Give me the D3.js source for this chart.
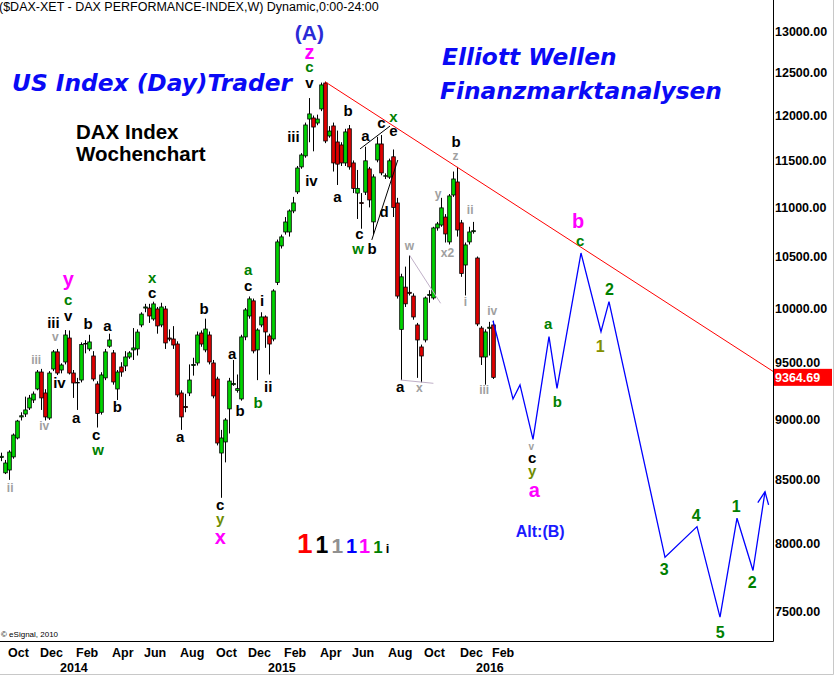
<!DOCTYPE html>
<html>
<head>
<meta charset="utf-8">
<script src="https://cdn.jsdelivr.net/npm/d3@7/dist/d3.min.js"></script>
<style>
  body { margin: 0; background: #fff; }
  text { font-family: "Liberation Sans", Arial, sans-serif; }
</style>
</head>
<body>
<script>
	// weekly DAX candles, first bar = week of 23 Sep 2013
	var firstWeek = new Date(2013, 8, 23);

	var opens = [8680, 8555, 8578, 8685, 8842, 9020, 9045, 9097, 9166, 9262,
		9412, 9227, 9011, 9439, 9593, 9430, 9502, 9720, 9403, 9315,
		9341, 9665, 9620, 9556, 9306, 9060, 9360, 9645, 9584, 9262,
		9457, 9466, 9547, 9611, 9620, 9841, 10000, 10000, 9897, 9991,
		9841, 9991, 9720, 9711, 9665, 9227, 9110, 9227, 9470, 9493,
		9766, 9611, 9748, 9493, 9350, 8717, 8809, 9089, 9300, 9250,
		9175, 9730, 9925, 10068, 9611, 9841, 9916, 9739, 9711, 10246,
		10606, 10747, 10747, 10963, 11163, 11430, 11550, 11960, 11972, 11915,
		12075, 12375, 11770, 11882, 11703, 11670, 11473, 11850, 11473, 11150,
		11050, 11160, 11408, 10850, 11505, 11681, 11330, 11320, 11540, 11046,
		9800, 10200, 10150, 10114, 9841, 9638, 9702, 10120, 10096, 10788,
		10818, 10900, 10646, 11130, 11268, 10840, 10416, 10646, 10750, 10485,
		9812, 9547, 9810, 9841];
	var highs = [8720, 8660, 8740, 8880, 8995, 9060, 9195, 9210, 9240, 9430,
		9440, 9260, 9420, 9610, 9620, 9490, 9794, 9790, 9430, 9360,
		9680, 9700, 9750, 9600, 9330, 9410, 9620, 9760, 9610, 9430,
		9500, 9600, 9600, 9812, 9800, 9960, 10040, 10040, 10060, 10010,
		10050, 10020, 9800, 9830, 9690, 9250, 9220, 9480, 9540, 9780,
		9790, 9900, 9780, 9520, 9370, 8910, 9010, 9360, 9520, 9390,
		9750, 10000, 10110, 10090, 9810, 9960, 9930, 9760, 10180, 10670,
		10720, 10900, 10980, 11110, 11440, 11580, 11920, 12200, 12000, 12010,
		12380, 12390, 11880, 11920, 11830, 11700, 11850, 11893, 11500, 11397,
		11150, 11650, 11430, 11350, 11760, 11780, 11360, 11520, 11620, 11100,
		10330, 10400, 10515, 10140, 9860, 9660, 10110, 10170, 10800, 10850,
		11100, 10930, 11140, 11380, 11430, 10870, 10640, 10800, 10850, 10500,
		9830, 9800, 9870, 9880];
	var lows = [8650, 8545, 8498, 8670, 8830, 8990, 9020, 9080, 9140, 9250,
		9080, 8990, 8995, 9420, 9385, 9400, 9480, 9390, 9184, 9080,
		9320, 9580, 9600, 9330, 8930, 9040, 9340, 9630, 9300, 9166,
		9370, 9420, 9530, 9520, 9560, 9820, 9960, 9860, 9880, 9760,
		9820, 9620, 9690, 9620, 9190, 8910, 9060, 9200, 9380, 9470,
		9640, 9590, 9480, 9180, 8780, 8355, 8640, 8880, 9290, 9230,
		9160, 9700, 9900, 9580, 9340, 9820, 9630, 9390, 9690, 10220,
		10580, 10720, 10700, 10940, 11140, 11410, 11530, 11700, 11600, 11890,
		12050, 11690, 11750, 11380, 11236, 11440, 11440, 11400, 11150, 10880,
		10780, 11130, 11000, 10720, 11480, 11340, 11300, 11300, 10900, 10090,
		9340, 10010, 10120, 9890, 9360, 9320, 9680, 10050, 10080, 10760,
		10800, 10640, 10620, 11110, 10700, 10300, 10120, 10620, 10730, 9830,
		9475, 9300, 9560, 9350];
	var closes = [8690, 8635, 8725, 8867, 8985, 9030, 9080, 9183, 9218, 9412,
		9184, 9020, 9403, 9593, 9403, 9475, 9748, 9403, 9315, 9320,
		9660, 9670, 9684, 9350, 9050, 9386, 9593, 9702, 9324, 9412,
		9412, 9547, 9584, 9629, 9775, 9943, 10010, 9925, 10039, 9832,
		10010, 9675, 9710, 9656, 9210, 9020, 9100, 9341, 9480, 9748,
		9665, 9803, 9502, 9201, 8800, 8842, 8994, 9332, 9310, 9265,
		9730, 9982, 10087, 9602, 9794, 9916, 9776, 9665, 10163, 10646,
		10697, 10849, 10963, 11047, 11418, 11560, 11893, 12018, 11870, 11960,
		12353, 11714, 11825, 11473, 11460, 11473, 11815, 11430, 11200, 11200,
		11040, 11496, 11078, 11322, 11681, 11365, 11335, 11496, 11000, 10114,
		10300, 10040, 10140, 9916, 9702, 9556, 10096, 10130, 10788, 10829,
		10995, 10727, 11120, 11300, 10767, 10333, 10616, 10747, 10760, 9850,
		9547, 9776, 9820, 9364.69];
	var lastPrice = 9364.69;

	// projected path (weeks after first bar, price)
	var projWeeks = [123, 128, 129.75, 133, 137, 139, 145, 150, 152, 166, 174, 179.75, 184, 188, 191];
	var projPrices = [9880, 9175, 9298, 8831, 9733, 9268, 10535, 9779, 10061, 7897, 8130, 7462, 8195, 7799, 8403];
	var arrowWeeks = [189.2, 191, 191.9];
	var arrowPrices = [8317, 8403, 8299];

	var trendWeeks = [81, 193];
	var trendPrices = [12390, 9418];

	// thin helper lines drawn in the chart
	var helperLines = [
		{ w: [89.75, 97.25], p: [11626, 11881], c: "#000" },
		{ w: [92.7, 99.2], p: [10666, 11505], c: "#000" },
		{ w: [102.1, 109.9], p: [10515, 10045], c: "#c0b0c8" },
		{ w: [99.9, 108.1], p: [9341, 9312], c: "#c0b0c8" }
	];

	var priceTicks = [7500, 8000, 8500, 9000, 9500, 10000, 10500, 11000, 11500, 12000, 12500, 13000];
	var monthTicks = ["2013-10", "2013-12", "2014-02", "2014-04", "2014-06", "2014-08", "2014-10", "2014-12",
		"2015-02", "2015-04", "2015-06", "2015-08", "2015-10", "2015-12", "2016-02"];
	var yearTicks = ["2014", "2015", "2016"];

	// wave labels: text, week, price, style
	var waveLabels = [
		["ii", 2.3, 8433, "s"], ["iv", 10.8, 8943, "s"], ["iii", 8.8, 9520, "s"], ["v", 13.6, 9730, "s"],
		["iii", 13.1, 9859, "k"], ["v", 16.8, 9925, "k"], ["c", 16.8, 10077, "g"], ["y", 16.8, 10279, "m"],
		["iv", 14.6, 9315, "k"], ["a", 18.8, 9011, "k"], ["b", 21.8, 9850, "k"], ["a", 26.6, 9832, "k"],
		["b", 29.1, 9106, "k"], ["c", 23.8, 8867, "k"], ["w", 24.3, 8742, "g"], ["x", 37.8, 10290, "g"],
		["c", 37.8, 10143, "k"], ["a", 44.8, 8851, "k"], ["b", 50.8, 9991, "k"], ["a", 57.8, 9574, "k"],
		["b", 59.8, 9071, "k"], ["a", 61.8, 10367, "g"], ["c", 61.8, 10211, "k"], ["i", 65.3, 10067, "k"],
		["ii", 66.8, 9280, "k"], ["b", 64.3, 9140, "g"], ["c", 54.8, 8299, "k"], ["y", 54.8, 8189, "o"],
		["x", 54.8, 8051, "m"],
		["(A)", 77.1, 12988, "A"], ["z", 77.1, 12744, "m"], ["c", 77.1, 12564, "g"], ["v", 77.1, 12375, "k"],
		["iii", 73.1, 11758, "k"], ["iv", 77.6, 11279, "k"], ["b", 86.8, 12052, "k"], ["a", 84.1, 11109, "k"],
		["a", 91.1, 11770, "k"], ["c", 95.1, 11915, "k"], ["x", 98.1, 11983, "g"], ["e", 98.1, 11825, "k"],
		["d", 95.8, 10952, "k"], ["c", 89.6, 10727, "k"], ["w", 89.3, 10575, "g"], ["b", 92.8, 10575, "k"],
		["b", 113.8, 11703, "k"], ["z", 113.6, 11549, "s"], ["y", 109.3, 11140, "s"], ["x2", 111.6, 10535, "s"],
		["ii", 117.3, 10973, "s"], ["i", 116.1, 10057, "s"], ["w", 102.1, 10605, "s"], ["a", 99.8, 9280, "k"],
		["x", 104.6, 9271, "s"], ["iv", 122.8, 9972, "s"], ["iii", 120.8, 9253, "s"],
		["v", 132.6, 8775, "t"], ["c", 132.8, 8676, "k"], ["y", 132.8, 8570, "o"], ["a", 133.3, 8420, "m"],
		["a", 136.8, 9850, "g"], ["b", 139.1, 9149, "g"], ["b", 144.3, 10860, "m"], ["c", 144.8, 10656, "g"],
		["2", 152.1, 10182, "n"], ["1", 149.8, 9647, "on"], ["3", 165.8, 7811, "n"], ["4", 173.8, 8221, "n"],
		["5", 179.8, 7358, "n"], ["1", 183.8, 8291, "n"], ["2", 187.8, 7715, "n"], ["Alt:(B)", 134.8, 8097, "B"]
	];
	var labelStyle = {
		k: { c: "#000000", s: 15 },
		g: { c: "#008000", s: 15 },
		o: { c: "#6e8c00", s: 15 },
		s: { c: "#a0a0a0", s: 12 },
		t: { c: "#a0a0a0", s: 10 },
		m: { c: "#ff00ff", s: 20 },
		n: { c: "#008000", s: 16 },
		on: { c: "#839000", s: 16 },
		A: { c: "#2b2bd6", s: 21 },
		B: { c: "#1a1aff", s: 16 }
	};

	// colored "1" row
	var ones = [
		{ t: "1", c: "#ff0000", s: 28 }, { t: "1", c: "#000000", s: 23 }, { t: "1", c: "#909090", s: 21 },
		{ t: "1", c: "#0000ff", s: 20 }, { t: "1", c: "#ff00ff", s: 20 }, { t: "1", c: "#008000", s: 17 },
		{ t: "i", c: "#000000", s: 13 }
	];

	var width = 836, height = 676;
	var axisX = 773, axisY = 641;

	function wk(i) {
		return new Date(firstWeek.getTime() + i * 7 * 86400000);
	}

	var svg = d3.select("body").append("svg")
		.attr("width", width)
		.attr("height", height);

	var x = d3.scaleTime().domain([wk(0), wk(193)]).range([1, axisX]);
	var y = d3.scaleLog().domain([7500, 13000]).range([611.8, 31]);

	var plot = svg.append("g");

	// frame
	svg.append("line").attr("x1", 833.5).attr("x2", 833.5).attr("y1", 0).attr("y2", 674.5)
		.attr("stroke", "#c8c8c8");
	svg.append("line").attr("x1", 0).attr("x2", 833.5).attr("y1", 674.5).attr("y2", 674.5)
		.attr("stroke", "#c8c8c8");

	// candles
	var candles = d3.range(opens.length).map(function(i) {
		return { d: wk(i), o: opens[i], h: highs[i], l: lows[i], c: closes[i] };
	});

	var cg = plot.selectAll("g.candle").data(candles).enter().append("g");
	cg.append("line")
		.attr("x1", function(d) { return x(d.d) + 0.5; })
		.attr("x2", function(d) { return x(d.d) + 0.5; })
		.attr("y1", function(d) { return y(d.h); })
		.attr("y2", function(d) { return y(d.l); })
		.attr("stroke", "#000")
		.attr("stroke-width", 1);
	cg.append("rect")
		.attr("x", function(d) { return x(d.d) - 1.3; })
		.attr("width", 3.6)
		.attr("y", function(d) { return y(Math.max(d.o, d.c)); })
		.attr("height", function(d) { return Math.max(0.5, y(Math.min(d.o, d.c)) - y(Math.max(d.o, d.c))); })
		.attr("fill", function(d) { return d.c >= d.o ? "#00d400" : "#e00000"; })
		.attr("stroke", "#000")
		.attr("stroke-width", 0.8);

	// trend line
	plot.append("line")
		.attr("x1", x(wk(trendWeeks[0]))).attr("y1", y(trendPrices[0]))
		.attr("x2", x(wk(trendWeeks[1]))).attr("y2", y(trendPrices[1]))
		.attr("stroke", "#ff0000")
		.attr("stroke-width", 1);

	helperLines.forEach(function(h) {
		plot.append("line")
			.attr("x1", x(wk(h.w[0]))).attr("y1", y(h.p[0]))
			.attr("x2", x(wk(h.w[1]))).attr("y2", y(h.p[1]))
			.attr("stroke", h.c)
			.attr("stroke-width", 1);
	});

	// projection
	var line = d3.line()
		.x(function(d) { return x(wk(d[0])); })
		.y(function(d) { return y(d[1]); });
	plot.append("path")
		.attr("d", line(d3.zip(projWeeks, projPrices)))
		.attr("fill", "none")
		.attr("stroke", "#0000ff")
		.attr("stroke-width", 1.3);
	plot.append("path")
		.attr("d", line(d3.zip(arrowWeeks, arrowPrices)))
		.attr("fill", "none")
		.attr("stroke", "#0000ff")
		.attr("stroke-width", 1.3);

	// wave labels
	plot.selectAll("text.wave").data(waveLabels).enter().append("text")
		.attr("x", function(d) { return x(wk(d[1])); })
		.attr("y", function(d) { return y(d[2]); })
		.attr("dy", "0.36em")
		.attr("text-anchor", "middle")
		.style("font-weight", "bold")
		.style("font-size", function(d) { return labelStyle[d[3]].s + "px"; })
		.style("fill", function(d) { return labelStyle[d[3]].c; })
		.text(function(d) { return d[0]; });

	// row of ones
	var onesText = svg.append("text")
		.attr("x", 297).attr("y", 553)
		.style("font-weight", "bold");
	ones.forEach(function(o, i) {
		onesText.append("tspan")
			.attr("dx", i === 0 ? 0 : 3)
			.style("font-size", o.s + "px")
			.style("fill", o.c)
			.text(o.t);
	});

	// axes
	svg.append("line").attr("x1", axisX + 0.5).attr("x2", axisX + 0.5).attr("y1", 0).attr("y2", axisY + 0.5)
		.attr("stroke", "#000");
	svg.append("line").attr("x1", 0).attr("x2", axisX + 0.5).attr("y1", axisY + 0.5).attr("y2", axisY + 0.5)
		.attr("stroke", "#000");

	svg.selectAll("text.ptick").data(priceTicks).enter().append("text")
		.attr("x", axisX + 2)
		.attr("y", function(d) { return y(d); })
		.attr("dy", "0.36em")
		.style("font-size", "12.5px")
		.style("font-weight", "bold")
		.text(function(d) { return d.toFixed(2); });

	svg.append("rect")
		.attr("x", axisX + 1).attr("y", y(lastPrice) - 8.5)
		.attr("width", 58).attr("height", 17)
		.attr("fill", "#ff0000");
	svg.append("text")
		.attr("x", axisX + 2).attr("y", y(lastPrice))
		.attr("dy", "0.36em")
		.style("font-size", "12.5px")
		.style("font-weight", "bold")
		.style("fill", "#fff")
		.text(lastPrice.toFixed(2));

	var parseMonth = d3.timeParse("%Y-%m");
	svg.selectAll("text.mtick").data(monthTicks).enter().append("text")
		.attr("x", function(d) { return x(d3.timeMonday.ceil(parseMonth(d))) - 1; })
		.attr("y", 657)
		.style("font-size", "12.5px")
		.style("font-weight", "bold")
		.text(function(d) { return d3.timeFormat("%b")(parseMonth(d)); });
	svg.selectAll("text.ytick").data(yearTicks).enter().append("text")
		.attr("x", function(d) { return x(d3.timeMonday.ceil(new Date(+d, 0, 1))) - 1; })
		.attr("y", 672)
		.style("font-size", "12.5px")
		.style("font-weight", "bold")
		.text(function(d) { return d; });

	// titles
	svg.append("text").attr("x", -1).attr("y", 11)
		.style("font-size", "12.5px")
		.text("($DAX-XET - DAX PERFORMANCE-INDEX,W) Dynamic,0:00-24:00");
	svg.append("text").attr("x", 1).attr("y", 637)
		.style("font-size", "8px")
		.text("\u00a9 eSignal, 2010");

	var big = [
		{ t: "US Index (Day)Trader", x: 12, y: 91 },
		{ t: "Elliott Wellen", x: 442, y: 65 },
		{ t: "Finanzmarktanalysen", x: 440, y: 99 }
	];
	svg.selectAll("text.big").data(big).enter().append("text")
		.attr("x", function(d) { return d.x; })
		.attr("y", function(d) { return d.y; })
		.style("font-family", "'DejaVu Sans', Verdana, sans-serif")
		.style("font-size", "23.3px")
		.style("font-weight", "bold")
		.style("font-style", "italic")
		.style("fill", "#0a0af5")
		.text(function(d) { return d.t; });

	svg.append("text").attr("x", 76).attr("y", 139)
		.style("font-size", "20.5px").style("font-weight", "bold")
		.text("DAX Index");
	svg.append("text").attr("x", 76).attr("y", 161)
		.style("font-size", "20.5px").style("font-weight", "bold")
		.text("Wochenchart");
</script>
</body>
</html>
